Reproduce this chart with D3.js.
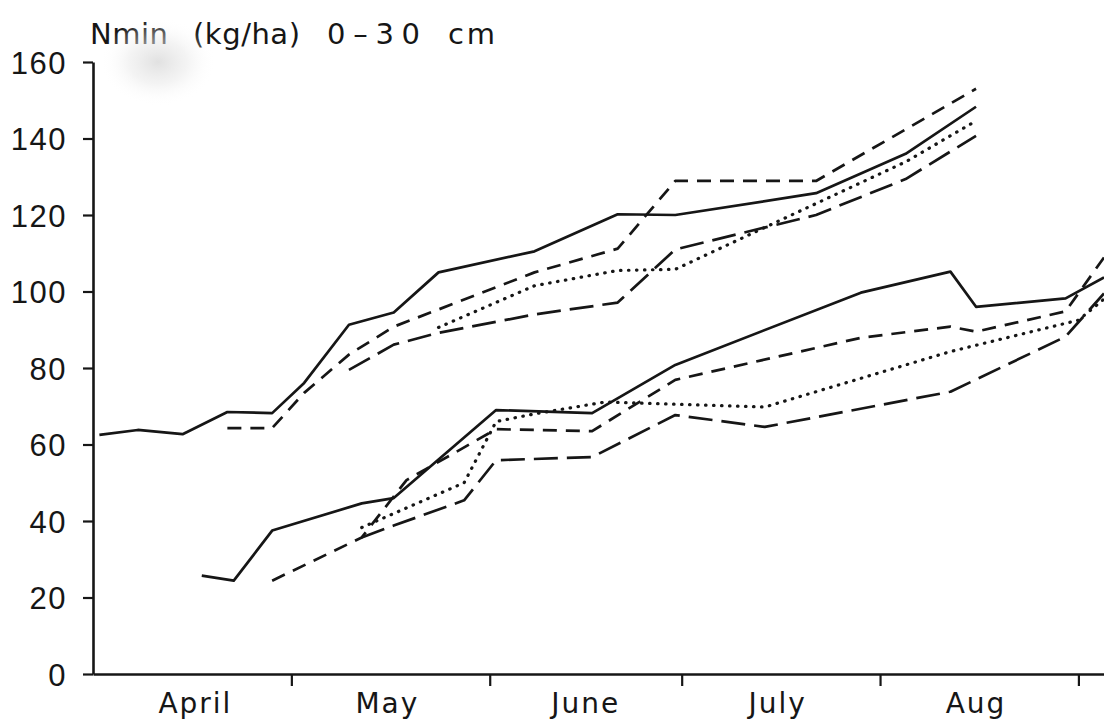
<!DOCTYPE html>
<html>
<head>
<meta charset="utf-8">
<script src="https://cdn.jsdelivr.net/npm/d3@7"></script>
<style>
  html, body { margin: 0; padding: 0; background: #fff; }
  svg { display: block; }
</style>
</head>
<body>
<div id="app"></div>
<script>
// month labels and y ticks
const months = ["April", "May", "June", "July", "Aug"];
const monthStarts = ["05-01", "06-01", "07-01", "08-01", "09-01"];
const monthMids = ["04-16", "05-16", "06-16", "07-16", "08-16"];
const yTicks = [0, 20, 40, 60, 80, 100, 120, 140, 160];
const titleWords = ["Nmin", "(kg/ha)", "0\u201330", "cm"];

// upper group
const upperSolid = [["04-01",62.5],["04-07",63.8],["04-14",62.7],["04-21",68.5],["04-28",68.2],["05-03",76.1],["05-10",91.3],["05-17",94.5],["05-24",105.0],["06-08",110.5],["06-21",120.2],["06-30",120.0],["07-22",125.7],["08-05",136.0],["08-16",148.3]];
const upperDash = [["04-21",64.3],["04-28",64.3],["05-03",73.5],["05-10",83.5],["05-17",90.8],["05-24",95.3],["06-08",105.0],["06-21",111.2],["06-30",128.9],["07-22",128.9],["08-16",153.0]];
const upperDot = [["05-24",90.6],["06-08",101.5],["06-21",105.5],["06-30",105.8],["07-22",123.0],["08-05",133.9],["08-16",144.6]];
const upperLong = [["05-10",79.5],["05-17",86.1],["05-24",89.2],["06-08",94.0],["06-21",97.1],["06-30",111.0],["07-22",120.0],["08-05",129.4],["08-16",140.7]];

// lower group
const lowerSolid = [["04-17",25.7],["04-22",24.4],["04-28",37.5],["05-12",44.6],["05-17",46.0],["06-02",69.0],["06-17",68.2],["06-30",80.8],["07-29",99.7],["08-12",105.2],["08-16",96.0],["08-30",98.2],["09-05",103.7]];
const lowerDash = [["04-28",24.4],["05-12",35.7],["05-19",50.7],["06-02",64.0],["06-17",63.5],["06-30",76.9],["07-29",87.9],["08-12",90.8],["08-16",89.5],["08-30",94.8],["09-05",108.9]];
const lowerDot = [["05-12",38.3],["05-28",50.0],["06-02",66.0],["06-08",68.0],["06-19",71.1],["07-14",69.8],["08-12",84.3],["09-01",92.5],["09-05",98.0]];
const lowerLong = [["05-12",35.7],["05-17",38.8],["05-28",45.4],["06-02",55.9],["06-17",56.7],["06-30",67.7],["07-14",64.6],["08-12",73.8],["08-30",88.2],["09-05",99.5]];

const width = 1104, height = 724;
const parse = d3.timeParse("%m-%d");

const x = d3.scaleTime()
    .domain([parse("03-31"), parse("09-05")])
    .range([93, 1104]);
const y = d3.scaleLinear()
    .domain([0, 160])
    .range([674, 62]);

const svg = d3.select("#app").append("svg")
    .attr("width", width)
    .attr("height", height)
    .style("font-family", "'DejaVu Sans', sans-serif");

svg.append("rect").attr("width", width).attr("height", height).attr("fill", "#fff");

const ink = "#161616";

// y axis
const yAxis = svg.append("g")
    .attr("transform", `translate(${x.range()[0]},0)`)
    .call(d3.axisLeft(y).tickValues(yTicks).tickSize(10).tickSizeOuter(0).tickPadding(16));
yAxis.select(".domain").attr("stroke", ink).attr("stroke-width", 2.6);
yAxis.selectAll(".tick line").attr("stroke", ink).attr("stroke-width", 2.2);
yAxis.selectAll(".tick text")
    .attr("fill", ink)
    .style("font-size", "31px")
    .style("letter-spacing", "1.5px")
    .attr("dy", "0.36em");

// x axis
const xAxis = svg.append("g")
    .attr("transform", `translate(0,${y(0)})`)
    .call(d3.axisBottom(x).tickValues(monthStarts.map(parse)).tickFormat("").tickSize(12).tickSizeOuter(0));
xAxis.select(".domain").attr("stroke", ink).attr("stroke-width", 2.6);
xAxis.selectAll(".tick line").attr("stroke", ink).attr("stroke-width", 2.2);

svg.append("g").selectAll("text")
    .data(months)
    .join("text")
    .attr("x", (d, i) => x(parse(monthMids[i])))
    .attr("y", 713)
    .attr("text-anchor", "middle")
    .attr("fill", ink)
    .style("font-size", "28px")
    .style("letter-spacing", "2px")
    .text(d => d);

// title, word by word
const titleX = [90, 193, 327, 448];
const titleW = [78, 107, 93, 47];
svg.append("g").selectAll("text")
    .data(titleWords)
    .join("text")
    .attr("x", (d, i) => titleX[i])
    .attr("y", 44)
    .attr("fill", ink)
    .attr("textLength", (d, i) => titleW[i])
    .attr("lengthAdjust", "spacing")
    .style("font-size", "29px")
    .text(d => d);

// scanner smudge over the title
const defs = svg.append("defs");
const grad = defs.append("radialGradient").attr("id", "smudge");
grad.append("stop").attr("offset", "0%").attr("stop-color", "#d4d4d4").attr("stop-opacity", 0.7);
grad.append("stop").attr("offset", "50%").attr("stop-color", "#e8e8e8").attr("stop-opacity", 0.5);
grad.append("stop").attr("offset", "100%").attr("stop-color", "#fff").attr("stop-opacity", 0);
svg.append("ellipse")
    .attr("cx", 158).attr("cy", 62)
    .attr("rx", 58).attr("ry", 44)
    .attr("fill", "url(#smudge)");

// lines
const line = d3.line()
    .x(d => x(parse(d[0])))
    .y(d => y(d[1]));

const styles = {
    solid: { dash: null, w: 2.7, cap: "butt" },
    dash: { dash: "14,9", w: 2.7, cap: "butt" },
    dot: { dash: "0.5,7.5", w: 3.2, cap: "round" },
    long: { dash: "24,9", w: 2.7, cap: "butt" },
};

const series = [
    [upperSolid, "solid"], [upperDash, "dash"], [upperDot, "dot"], [upperLong, "long"],
    [lowerSolid, "solid"], [lowerDash, "dash"], [lowerDot, "dot"], [lowerLong, "long"],
];

svg.append("g").selectAll("path")
    .data(series)
    .join("path")
    .attr("d", d => line(d[0]))
    .attr("fill", "none")
    .attr("stroke", ink)
    .attr("stroke-width", d => styles[d[1]].w)
    .attr("stroke-linecap", d => styles[d[1]].cap)
    .attr("stroke-linejoin", "round")
    .attr("stroke-dasharray", d => styles[d[1]].dash);
</script>
</body>
</html>
